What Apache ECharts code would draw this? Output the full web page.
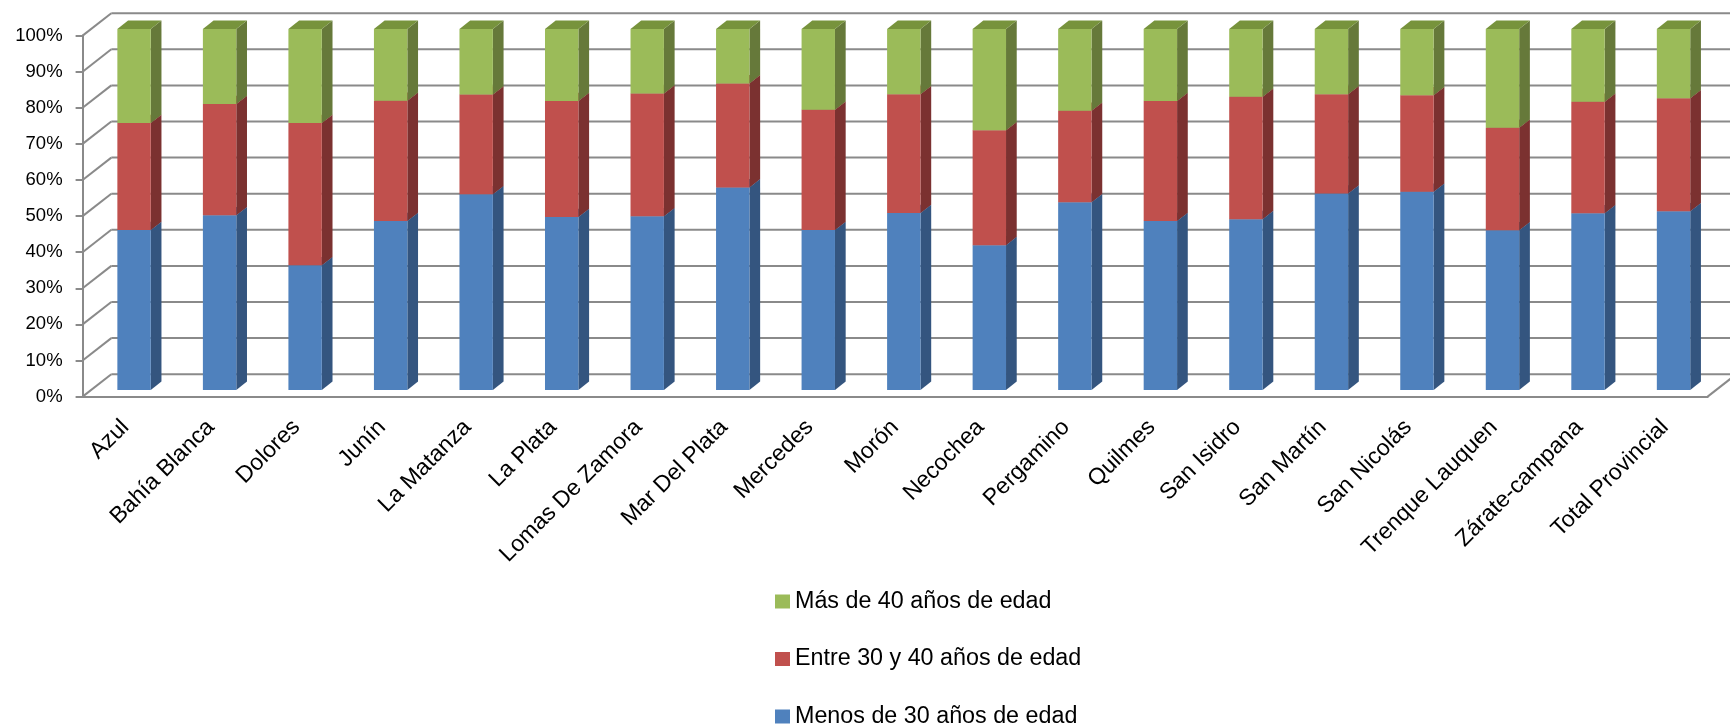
<!DOCTYPE html>
<html><head><meta charset="utf-8">
<script src="https://cdn.jsdelivr.net/npm/echarts@6/dist/echarts.min.js"></script>
<style>html,body{margin:0;padding:0;background:#fff}#c{width:1730px;height:728px}</style>
</head><body><div id="c"></div>
<script>
const categories = ['Azul','Bahía Blanca','Dolores','Junín','La Matanza','La Plata','Lomas De Zamora','Mar Del Plata','Mercedes','Morón','Necochea','Pergamino','Quilmes','San Isidro','San Martín','San Nicolás','Trenque Lauquen','Zárate-campana','Total Provincial'];
const menos30    = [44.3, 48.4, 34.5, 46.8, 54.2, 47.9, 48.1, 56.1, 44.3, 49.0, 40.1, 52.0, 46.8, 47.3, 54.4, 54.9, 44.2, 48.9, 49.5];
const entre30y40 = [29.6, 30.8, 39.4, 33.3, 27.6, 32.1, 34.0, 28.8, 33.3, 32.9, 31.8, 25.3, 33.2, 33.9, 27.5, 26.7, 28.4, 30.9, 31.3];
const mas40      = [26.1, 20.8, 26.1, 19.9, 18.2, 20.0, 17.9, 15.1, 22.4, 18.1, 28.1, 22.7, 20.0, 18.8, 18.1, 18.4, 27.4, 20.2, 19.2];
const yTicks = [0, 10, 20, 30, 40, 50, 60, 70, 80, 90, 100];
const seriesNames = ['Menos de 30 años de edad', 'Entre 30 y 40 años de edad', 'Más de 40 años de edad'];

const FONT = 'Liberation Sans';
const GRID_COLOR = '#8a8a8a';
const BAR_W = 33.4;
const FRONT_OFF = [8.7, -6.7];
const BAR_DEPTH = [10.7, -8.3];
const BACK_OFF = [28.7, -22.4];

const palettes = [
  {front: '#4F81BD', side: '#34557F', top: '#3E6699'},
  {front: '#C0504D', side: '#7B3130', top: '#9A3E3B'},
  {front: '#9BBB59', side: '#66793A', top: '#77933C'}
];

function stackData(values, bases) {
  return values.map((v, i) => [i, bases[i], bases[i] + v]);
}
const base0 = categories.map(() => 0);
const base1 = menos30.slice();
const base2 = menos30.map((v, i) => v + entre30y40[i]);

function barRender(cols) {
  return function (params, api) {
    const i = api.value(0), s = api.value(1), e = api.value(2);
    const pb = api.coord([i, s]), pt = api.coord([i, e]);
    const x0 = pb[0] - BAR_W / 2 + FRONT_OFF[0];
    const yb = pb[1] + FRONT_OFF[1], yt = pt[1] + FRONT_OFF[1];
    const dx = BAR_DEPTH[0], dy = BAR_DEPTH[1];
    return {type: 'group', children: [
      {type: 'polygon', shape: {points: [[x0 + BAR_W, yb], [x0 + BAR_W + dx, yb + dy], [x0 + BAR_W + dx, yt + dy], [x0 + BAR_W, yt]]}, style: {fill: cols.side}},
      {type: 'rect', shape: {x: x0, y: yt, width: BAR_W, height: yb - yt}, style: {fill: cols.front}},
      {type: 'polygon', shape: {points: [[x0, yt], [x0 + BAR_W, yt], [x0 + BAR_W + dx, yt + dy], [x0 + dx, yt + dy]]}, style: {fill: cols.top}}
    ]};
  };
}

function frameRender(params, api) {
  const v = api.value(1);
  const p = api.coord([0, v]);
  const cs = params.coordSys;
  const xL = cs.x, xR = cs.x + cs.width, y = p[1];
  const bx = BACK_OFF[0], by = BACK_OFF[1];
  const st = {stroke: GRID_COLOR, lineWidth: 2};
  const children = [
    {type: 'line', shape: {x1: xL + bx, y1: y + by, x2: xR + bx + 20, y2: y + by}, style: st},
    {type: 'line', shape: {x1: xL, y1: y, x2: xL + bx, y2: y + by}, style: st}
  ];
  if (v === 0) children.push({type: 'line', shape: {x1: xR, y1: y, x2: xR + bx, y2: y + by}, style: st});
  return {type: 'group', children};
}

const bars = [menos30, entre30y40, mas40].map((vals, k) => ({
  type: 'custom',
  name: seriesNames[k],
  coordinateSystem: 'cartesian2d',
  encode: {x: 0, y: [1, 2]},
  data: stackData(vals, [base0, base1, base2][k]),
  itemStyle: {color: palettes[k].front},
  renderItem: barRender(palettes[k]),
  z: 3 + k
}));

const chart = echarts.init(document.getElementById('c'));
chart.setOption({
  animation: false,
  backgroundColor: '#fff',
  textStyle: {fontFamily: FONT},
  grid: {left: 82.6, top: 35.6, width: 1625, height: 361},
  xAxis: {
    type: 'category', data: categories,
    axisLine: {lineStyle: {color: GRID_COLOR, width: 2}},
    axisTick: {length: 7, lineStyle: {color: GRID_COLOR, width: 2}},
    axisLabel: {rotate: 45, interval: 0, fontSize: 23, color: '#000', margin: 27, fontFamily: FONT}
  },
  yAxis: {
    type: 'value', min: 0, max: 100, interval: 10,
    axisLine: {show: true, lineStyle: {color: GRID_COLOR, width: 2}},
    axisTick: {show: true, length: 7, lineStyle: {color: GRID_COLOR, width: 2}},
    splitLine: {show: false},
    axisLabel: {formatter: '{value}%', fontSize: 18.5, color: '#000', margin: 20, fontFamily: FONT}
  },
  legend: {
    orient: 'vertical', left: 775, top: 590, height: 200, width: 400, padding: 0,
    itemWidth: 15, itemHeight: 14, itemGap: 34.5,
    icon: 'rect',
    textStyle: {fontSize: 23.3, color: '#000', fontFamily: FONT, lineHeight: 23},
    data: [seriesNames[2], seriesNames[1], seriesNames[0]]
  },
  series: [{
    type: 'custom', name: 'frame', coordinateSystem: 'cartesian2d',
    encode: {x: 0, y: 1}, silent: true,
    data: yTicks.map(v => [0, v]),
    renderItem: frameRender, z: 1
  }].concat(bars)
});
</script></body></html>
